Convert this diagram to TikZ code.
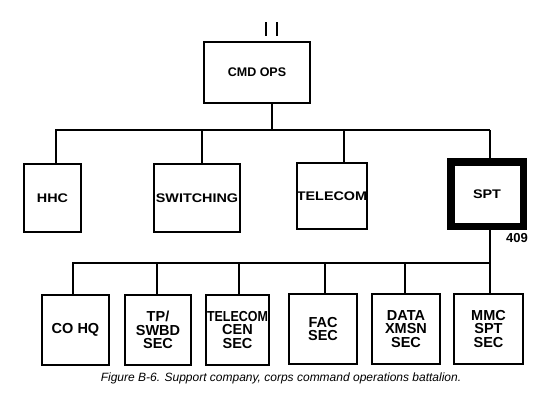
\documentclass[tikz,border=0pt]{standalone}
\usepackage{fontspec}
\setsansfont{Liberation Sans}
\newfontfamily\widefont{Liberation Sans}[FakeStretch=1.15]

\begin{document}
\begin{tikzpicture}[x=1pt,y=-1pt,
  box/.style={draw,line width=1.9pt,inner sep=0pt,align=center},
  topfont/.style={font=\fontsize{12.5}{12.5}\selectfont\sffamily\bfseries},
  midfont/.style={font=\fontsize{12.5}{12.5}\selectfont\widefont\bfseries},
  lowfont/.style={font=\fontsize{14.5}{13.2}\selectfont\sffamily\bfseries},
  link/.style={line width=1.4pt}]
\useasboundingbox (0,0) rectangle (550,415);
% command
\node[box,topfont,minimum width=106,minimum height=61] (cmd) at (257,72.5) {CMD OPS};
\coordinate (tickA) at (266,22);
\coordinate (tickB) at (277,22);
\draw[link,shorten >=5pt] (tickA) -- (tickA |- cmd.north);
\draw[link,shorten >=5pt] (tickB) -- (tickB |- cmd.north);
% companies
\node[box,midfont,minimum width=57,minimum height=68] (hhc) at (52.5,198) {HHC};
\node[box,midfont,minimum width=86,minimum height=68] (sw) at (197,198) {SWITCHING};
\node[box,midfont,minimum width=58,minimum height=66] (tel) at (332,196) {TELECOM};
\node[draw,line width=7.5pt,inner sep=0pt,midfont,minimum width=72.5,minimum height=64.5] (spt) at (487,194) {SPT};
\node[inner sep=0pt,anchor=north east,font=\fontsize{13}{13}\selectfont\sffamily\bfseries] (num) at ([xshift=1pt,yshift=-3pt]spt.south east) {409};
\coordinate (tbus) at (490,130);
\coordinate (cbus) at (272,130);
\draw[link] ([xshift=15pt]cmd.south) -- (cbus);
\draw[link] ([xshift=3pt]spt.north) -- (tbus);
\foreach \n/\dx in {hhc/3.5,sw/5,tel/12}
  \draw[link] ([xshift=\dx pt]\n.north) |- (tbus);
% sections
\node[box,lowfont,minimum width=67,minimum height=70] (cohq) at (75.5,330) {CO HQ};
\node[box,lowfont,minimum width=66,minimum height=70] (tp) at (158,330) {TP/\\SWBD\\SEC};
\node[box,lowfont,minimum width=63,minimum height=70] (tcen) at (237.5,330) {\scalebox{0.86}[1]{TELECOM}\\CEN\\SEC};
\node[box,lowfont,minimum width=68,minimum height=70] (fac) at (323,329) {FAC\\SEC};
\node[box,lowfont,minimum width=68,minimum height=70] (data) at (406,329) {DATA\\XMSN\\SEC};
\node[box,lowfont,minimum width=69,minimum height=70] (mmc) at (488.5,329) {MMC\\SPT\\SEC};
\coordinate (bbus) at (490,263);
\draw[link] ([xshift=3pt]spt.south) -- ([xshift=3pt]spt.south |- mmc.north);
\foreach \n/\dx in {cohq/-2.5,tp/-1,tcen/1.5,fac/2,data/-1}
  \draw[link] ([xshift=\dx pt]\n.north) |- (bbus);
% caption
\node[font=\fontsize{12}{14}\selectfont\sffamily\itshape] (cap) at (281,378) {Figure B-6. Support company, corps command operations battalion.};
\end{tikzpicture}
\end{document}
